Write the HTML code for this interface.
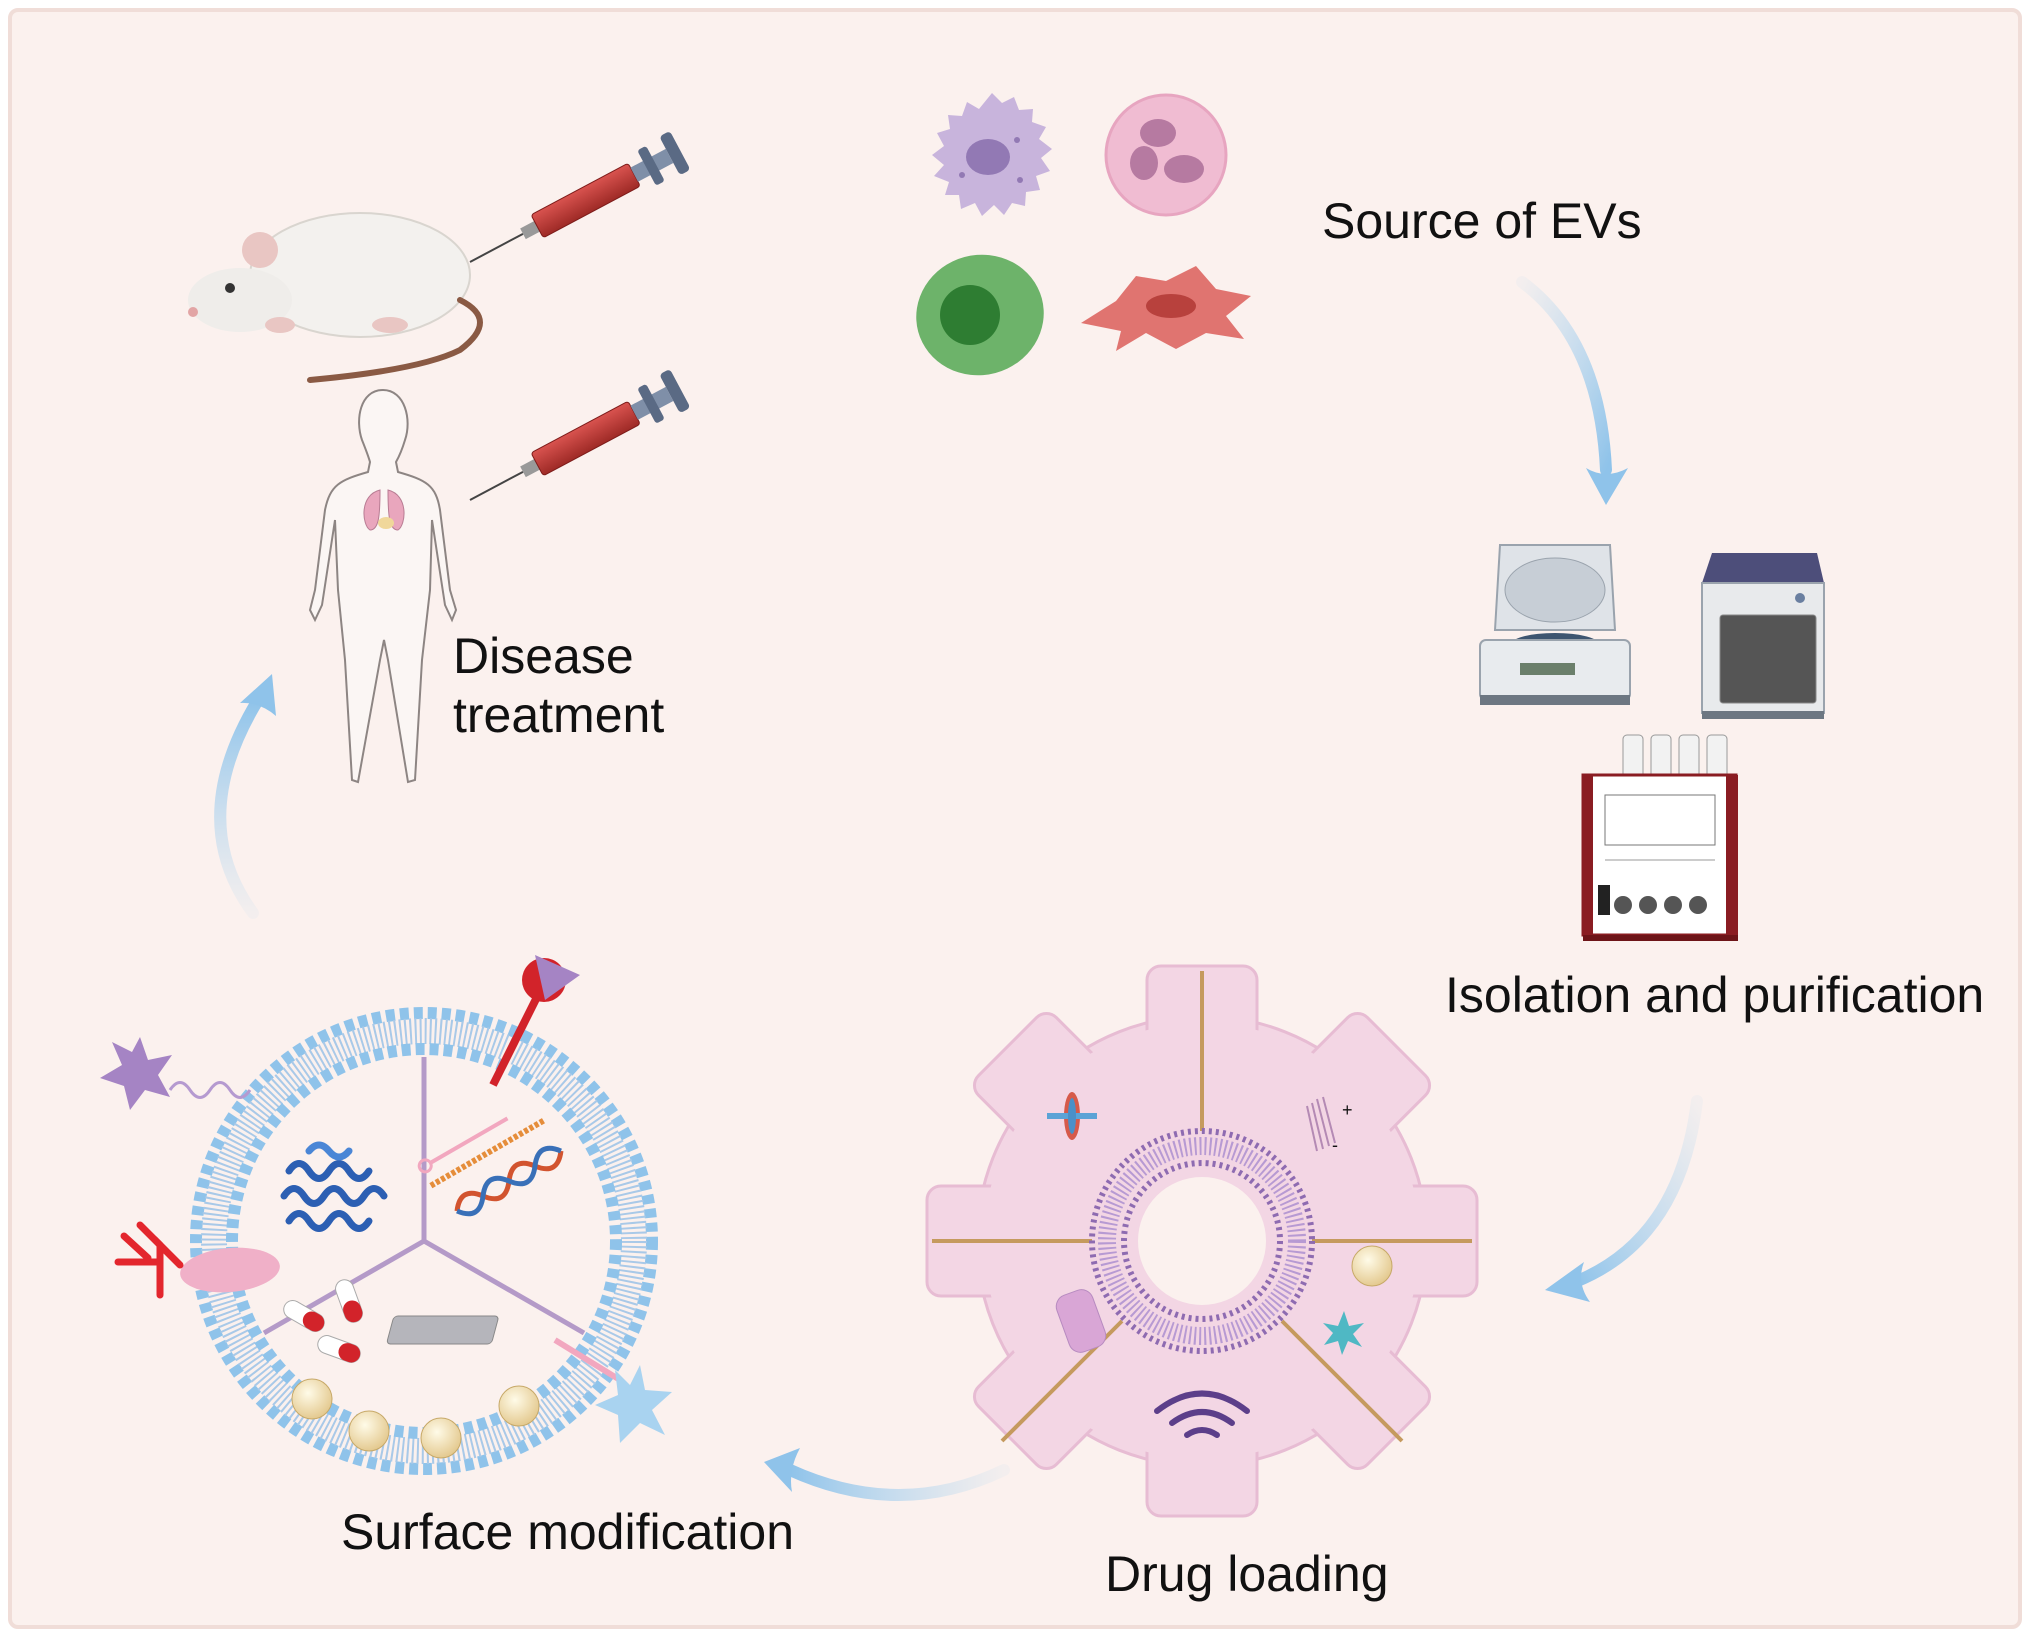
<!DOCTYPE html>
<html><head><meta charset="utf-8"><style>
html,body{margin:0;padding:0;background:#fff;}
svg{display:block;}
text{font-family:"Liberation Sans",Arial,sans-serif;fill:#111;}
</style></head><body>
<svg width="2031" height="1638" viewBox="0 0 2031 1638" xmlns="http://www.w3.org/2000/svg">
<defs>
<linearGradient id="ag1" x1="0" y1="0" x2="1" y2="1"><stop offset="0" stop-color="#aed6f1" stop-opacity="0.1"/><stop offset="1" stop-color="#8fc3ea"/></linearGradient>
<linearGradient id="ag2" x1="1" y1="0" x2="0" y2="1"><stop offset="0" stop-color="#aed6f1" stop-opacity="0.1"/><stop offset="1" stop-color="#8fc3ea"/></linearGradient>
<linearGradient id="ag3" x1="1" y1="0" x2="0" y2="0"><stop offset="0" stop-color="#aed6f1" stop-opacity="0.1"/><stop offset="1" stop-color="#8fc3ea"/></linearGradient>
<linearGradient id="ag4" x1="0" y1="1" x2="0" y2="0"><stop offset="0" stop-color="#aed6f1" stop-opacity="0.1"/><stop offset="1" stop-color="#8fc3ea"/></linearGradient>
<linearGradient id="syr" x1="0" y1="0" x2="0" y2="1"><stop offset="0" stop-color="#d9534f"/><stop offset="1" stop-color="#9e2a26"/></linearGradient>
<radialGradient id="pearl" cx="0.4" cy="0.35" r="0.7"><stop offset="0" stop-color="#fffbe8"/><stop offset="1" stop-color="#e2c68a"/></radialGradient>
</defs>
<rect x="0" y="0" width="2031" height="1638" fill="#fff"/>
<rect x="10" y="10" width="2010" height="1617" rx="8" fill="#fbf1ee" stroke="#f0ddd8" stroke-width="4"/>

<!-- arrows -->
<path d="M1522 282 Q1600 340 1606 470" fill="none" stroke="url(#ag1)" stroke-width="12" stroke-linecap="round"/>
<path d="M1586 468 L1606 505 L1628 468 Q1606 480 1586 468Z" fill="#8fc3ea"/>
<path d="M1697 1101 Q1680 1240 1575 1282" fill="none" stroke="url(#ag2)" stroke-width="12" stroke-linecap="round"/>
<path d="M1584 1262 L1545 1290 L1590 1302 Q1576 1283 1584 1262Z" fill="#8fc3ea"/>
<path d="M1004 1470 Q900 1520 790 1470" fill="none" stroke="url(#ag3)" stroke-width="12" stroke-linecap="round"/>
<path d="M800 1448 L764 1462 L792 1492 Q788 1470 800 1448Z" fill="#8fc3ea"/>
<path d="M253 913 Q185 820 258 700" fill="none" stroke="url(#ag4)" stroke-width="12" stroke-linecap="round"/>
<path d="M240 703 L272 674 L276 716 Q260 702 240 703Z" fill="#8fc3ea"/>

<!-- cells -->
<g transform="translate(992,155)">
<polygon points="0,-62 10,-52 22,-58 27,-45 41,-46 40,-33 54,-28 47,-16 60,-6 49,3 58,16 44,21 48,35 34,37 33,51 20,48 12,60 2,50 -10,61 -17,48 -31,54 -33,40 -47,40 -43,27 -58,21 -48,10 -60,0 -48,-9 -55,-22 -42,-26 -44,-40 -30,-39 -25,-53 -13,-46"  fill="#c8b4dc"/>
<ellipse cx="-4" cy="2" rx="22" ry="18" fill="#9279b4"/>
<circle cx="25" cy="-15" r="3" fill="#9279b4"/><circle cx="-30" cy="20" r="3" fill="#9279b4"/><circle cx="28" cy="25" r="3" fill="#9279b4"/>
</g>
<g transform="translate(1166,155)">
<circle r="60" fill="#f0bcd2" stroke="#e7a5c0" stroke-width="3"/>
<ellipse cx="-8" cy="-22" rx="18" ry="14" fill="#b67aa1"/>
<ellipse cx="-22" cy="8" rx="14" ry="17" fill="#b67aa1"/>
<ellipse cx="18" cy="14" rx="20" ry="14" fill="#b67aa1"/>
</g>
<g transform="translate(980,315)">
<ellipse rx="64" ry="60" fill="#6db36a" transform="rotate(-15)"/>
<circle cx="-10" cy="0" r="30" fill="#2e7d32"/>
</g>
<g transform="translate(1166,311)">
<path d="M-85,12 L-50,-10 L-30,-35 L0,-30 L30,-45 L50,-22 L85,-15 L60,5 L78,28 L40,22 L10,38 L-20,22 L-50,40 L-45,20Z" fill="#e07470"/>
<ellipse cx="5" cy="-5" rx="25" ry="12" fill="#b8413d"/>
</g>
<text x="1322" y="238" font-size="50">Source of EVs</text>

<!-- mouse -->
<g transform="translate(330,290)">
<ellipse cx="30" cy="-15" rx="110" ry="62" fill="#f3f1ee" stroke="#d9d5cf" stroke-width="2"/>
<ellipse cx="-90" cy="10" rx="52" ry="32" fill="#efedea"/>
<circle cx="-70" cy="-40" r="18" fill="#e9c6c3"/>
<circle cx="-100" cy="-2" r="5" fill="#333"/>
<circle cx="-137" cy="22" r="5" fill="#e2a5a5"/>
<path d="M130 10 Q170 30 130 60 Q90 80 -20 90" fill="none" stroke="#8a5a44" stroke-width="6" stroke-linecap="round"/>
<ellipse cx="-50" cy="35" rx="15" ry="8" fill="#e9c6c3"/><ellipse cx="60" cy="35" rx="18" ry="8" fill="#e9c6c3"/>
</g>
<!-- syringes -->
<g transform="translate(470,262) rotate(-28)">
<line x1="0" y1="0" x2="60" y2="0" stroke="#444" stroke-width="2"/>
<rect x="60" y="-6" width="16" height="12" fill="#999"/>
<rect x="76" y="-13" width="110" height="26" rx="3" fill="url(#syr)" stroke="#7d1c1a"/>
<rect x="186" y="-8" width="40" height="16" fill="#7f8fa8"/>
<rect x="200" y="-20" width="10" height="40" rx="3" fill="#5a6a84"/>
<rect x="226" y="-22" width="12" height="44" rx="4" fill="#5a6a84"/>
</g>
<g transform="translate(470,500) rotate(-28)">
<line x1="0" y1="0" x2="60" y2="0" stroke="#444" stroke-width="2"/>
<rect x="60" y="-6" width="16" height="12" fill="#999"/>
<rect x="76" y="-13" width="110" height="26" rx="3" fill="url(#syr)" stroke="#7d1c1a"/>
<rect x="186" y="-8" width="40" height="16" fill="#7f8fa8"/>
<rect x="200" y="-20" width="10" height="40" rx="3" fill="#5a6a84"/>
<rect x="226" y="-22" width="12" height="44" rx="4" fill="#5a6a84"/>
</g>
<!-- human -->
<g fill="#fbf6f4" stroke="#8d8583" stroke-width="2">
<path d="M383 390 C360 390 355 420 362 440 C366 450 368 455 370 462 L368 472 C340 480 330 485 325 510 L315 590 L310 610 L315 620 L322 605 L335 520 L338 590 L345 660 L352 780 L358 782 L380 660 L384 640 L388 660 L408 782 L415 780 L422 660 L430 590 L432 520 L445 605 L452 620 L456 610 L450 590 L440 510 C436 485 426 480 398 472 L396 462 C400 455 402 450 405 440 C412 420 405 390 383 390Z"/>
</g>
<g transform="translate(384,505)">
<path d="M-4 -15 C-25 -10 -22 20 -14 25 C-5 25 -4 10 -4 -15Z" fill="#e9a6bd" stroke="#b87c93"/>
<path d="M4 -15 C25 -10 22 20 14 25 C5 25 4 10 4 -15Z" fill="#e9a6bd" stroke="#b87c93"/>
<ellipse cx="2" cy="18" rx="8" ry="6" fill="#f0d79a"/>
</g>
<text x="453" y="673" font-size="50">Disease</text>
<text x="453" y="732" font-size="50">treatment</text>

<!-- centrifuge -->
<g transform="translate(1480,545)">
<path d="M20 0 L130 0 L135 85 L15 85Z" fill="#dfe3e8" stroke="#9aa3ad" stroke-width="2"/>
<ellipse cx="75" cy="45" rx="50" ry="32" fill="#c7ced6" stroke="#9aa3ad"/>
<ellipse cx="75" cy="100" rx="45" ry="12" fill="#3e5570"/>
<rect x="0" y="95" width="150" height="60" rx="6" fill="#e8ebee" stroke="#9aa3ad" stroke-width="2"/>
<rect x="40" y="118" width="55" height="12" fill="#6b7f6b"/>
<rect x="0" y="150" width="150" height="10" fill="#6d7782"/>
</g>
<!-- oven -->
<g transform="translate(1702,553)">
<path d="M10 0 L115 0 L122 30 L0 30Z" fill="#4d4e7a"/>
<rect x="0" y="30" width="122" height="130" fill="#e8eaec" stroke="#9aa3ad" stroke-width="2"/>
<rect x="18" y="62" width="96" height="88" rx="3" fill="#555" stroke="#888"/>
<circle cx="98" cy="45" r="5" fill="#6a7fa0"/>
<rect x="0" y="158" width="122" height="8" fill="#6d7782"/>
</g>
<!-- chromatography -->
<g transform="translate(1583,735)">
<rect x="40" y="0" width="20" height="45" rx="4" fill="#f2f2f2" stroke="#999"/>
<rect x="68" y="0" width="20" height="45" rx="4" fill="#f2f2f2" stroke="#999"/>
<rect x="96" y="0" width="20" height="45" rx="4" fill="#f2f2f2" stroke="#999"/>
<rect x="124" y="0" width="20" height="45" rx="4" fill="#f2f2f2" stroke="#999"/>
<rect x="0" y="40" width="153" height="160" fill="#fff" stroke="#8a1c22" stroke-width="3"/>
<rect x="0" y="40" width="10" height="160" fill="#8a1c22"/>
<rect x="143" y="40" width="12" height="160" fill="#8a1c22"/>
<rect x="22" y="60" width="110" height="50" fill="none" stroke="#777"/>
<line x1="22" y1="125" x2="132" y2="125" stroke="#999"/>
<circle cx="40" cy="170" r="9" fill="#555"/><circle cx="65" cy="170" r="9" fill="#555"/><circle cx="90" cy="170" r="9" fill="#555"/><circle cx="115" cy="170" r="9" fill="#555"/>
<rect x="15" y="150" width="12" height="30" fill="#222"/>
<rect x="0" y="200" width="155" height="6" fill="#6d1418"/>
</g>
<text x="1445" y="1012" font-size="50">Isolation and purification</text>

<!-- gear -->
<g transform="translate(1202,1241)">
<g fill="#f3d6e4" stroke="#e7bcd3" stroke-width="3">
<circle r="225"/>
<rect x="-55" y="-275" width="110" height="80" rx="14"/>
<rect x="-55" y="195" width="110" height="80" rx="14"/>
<rect x="-275" y="-55" width="80" height="110" rx="14"/>
<rect x="195" y="-55" width="80" height="110" rx="14"/>
<rect x="-55" y="-275" width="110" height="80" rx="14" transform="rotate(45)"/>
<rect x="-55" y="-275" width="110" height="80" rx="14" transform="rotate(-45)"/>
<rect x="-55" y="-275" width="110" height="80" rx="14" transform="rotate(135)"/>
<rect x="-55" y="-275" width="110" height="80" rx="14" transform="rotate(-135)"/>
</g>
<circle r="218" fill="#f3d6e4"/>
<g stroke="#c59a5e" stroke-width="4">
<line x1="0" y1="-270" x2="0" y2="-110"/>
<line x1="-270" y1="0" x2="-110" y2="0"/><line x1="110" y1="0" x2="270" y2="0"/>
<line x1="-80" y1="80" x2="-200" y2="200"/><line x1="80" y1="80" x2="200" y2="200"/>
</g>
<circle r="110" fill="#f3d6e4" stroke="#8e6bb1" stroke-width="6" stroke-dasharray="3 4"/>
<circle r="95" fill="none" stroke="#b79ad3" stroke-width="18" stroke-dasharray="2 3"/>
<circle r="78" fill="#f3d6e4" stroke="#8e6bb1" stroke-width="6" stroke-dasharray="3 4"/>
<circle r="64" fill="#fbf1ee"/>
<g fill="none" stroke="#5c3f8a" stroke-width="6" stroke-linecap="round">
<path d="M-45 170 Q0 135 45 170"/><path d="M-30 182 Q0 160 30 182"/><path d="M-15 194 Q0 184 15 194"/>
</g>
<circle cx="170" cy="25" r="20" fill="url(#pearl)" stroke="#c7a968"/>
<polygon points="142,70 147,85 162,82 151,93 160,106 146,100 140,114 136,100 122,104 131,92 121,82 136,85" fill="#4fb8c4"/>
<rect x="-140" y="50" width="38" height="60" rx="12" fill="#d9a6d6" stroke="#b78bc0" transform="rotate(-20 -121 80)"/>
<g transform="translate(-130,-125)"><ellipse rx="8" ry="24" fill="#d65a4a"/><rect x="-25" y="-3" width="50" height="6" fill="#5ba3d6"/><ellipse rx="4" ry="18" fill="#4a90c8"/></g>
<g transform="translate(135,-120)" stroke="#b48ab4" stroke-width="2" fill="none"><path d="M-30 -15 L-20 30 M-25 -18 L-14 28 M-20 -22 L-8 25 M-14 -24 L-2 22"/><text x="5" y="-5" font-size="18" fill="#4fb8c4" stroke="none">+</text><text x="-5" y="30" font-size="18" fill="#4fb8c4" stroke="none">-</text></g>
</g>
<text x="1105" y="1591" font-size="50">Drug loading</text>

<!-- surface modified vesicle -->
<g transform="translate(424,1241)">
<circle r="228" fill="none" stroke="#8fc3ea" stroke-width="12" stroke-dasharray="9 5"/>
<circle r="210" fill="none" stroke="#a9c9e8" stroke-width="26" stroke-dasharray="2 3"/>
<circle r="192" fill="none" stroke="#8fc3ea" stroke-width="12" stroke-dasharray="9 5"/>
<circle r="184" fill="#fbf1ee"/>
<g stroke="#b49ac8" stroke-width="5">
<line x1="0" y1="0" x2="0" y2="-184"/>
<line x1="0" y1="0" x2="-160" y2="92"/>
<line x1="0" y1="0" x2="160" y2="92"/>
</g>
<g transform="translate(-95,-50)" fill="none" stroke="#2c5fb3" stroke-width="7" stroke-linecap="round">
<path d="M-40 -20 q10 -15 20 0 q10 15 20 0 q10 -15 20 0 q10 15 20 0"/>
<path d="M-45 5 q10 -15 20 0 q10 15 20 0 q10 -15 20 0 q10 15 20 0 q10 -15 20 0"/>
<path d="M-40 30 q10 -15 20 0 q10 15 20 0 q10 -15 20 0 q10 15 20 0"/>
<path d="M-20 -40 q10 -12 20 0 q10 12 20 0" stroke="#4a86d6"/>
</g>
<g transform="translate(85,-60) rotate(-30)">
<path d="M-60 0 q15 -20 30 0 q15 20 30 0 q15 -20 30 0 q15 20 30 0" fill="none" stroke="#d2542f" stroke-width="5"/>
<path d="M-60 0 q15 20 30 0 q15 -20 30 0 q15 20 30 0 q15 -20 30 0" fill="none" stroke="#3970b8" stroke-width="5"/>
<path d="M-70 -35 L60 -35" stroke="#e58d3a" stroke-width="6" stroke-dasharray="4 2"/>
<path d="M-60 -55 L30 -55" stroke="#f2a7bf" stroke-width="4"/><circle cx="-65" cy="-55" r="6" fill="none" stroke="#f2a7bf" stroke-width="3"/>
</g>
<g transform="translate(-120,75) rotate(30)"><rect x="-22" y="-9" width="44" height="18" rx="9" fill="#fff" stroke="#aaa"/><rect x="0" y="-9" width="22" height="18" rx="9" fill="#d2232a"/></g>
<g transform="translate(-75,60) rotate(70)"><rect x="-22" y="-9" width="44" height="18" rx="9" fill="#fff" stroke="#aaa"/><rect x="0" y="-9" width="22" height="18" rx="9" fill="#d2232a"/></g>
<g transform="translate(-85,108) rotate(20)"><rect x="-22" y="-9" width="44" height="18" rx="9" fill="#fff" stroke="#aaa"/><rect x="0" y="-9" width="22" height="18" rx="9" fill="#d2232a"/></g>
<rect x="-10" y="75" width="105" height="28" rx="4" fill="#b5b5bb" stroke="#888" transform="skewX(-15)"/>
<circle cx="-112" cy="158" r="20" fill="url(#pearl)" stroke="#c7a968"/>
<circle cx="-55" cy="190" r="20" fill="url(#pearl)" stroke="#c7a968"/>
<circle cx="17" cy="197" r="20" fill="url(#pearl)" stroke="#c7a968"/>
<circle cx="95" cy="165" r="20" fill="url(#pearl)" stroke="#c7a968"/>
</g>
<line x1="493" y1="1085" x2="538" y2="995" stroke="#d2232a" stroke-width="8"/>
<circle cx="544" cy="980" r="22" fill="#d2232a"/>
<polygon points="535,955 580,975 545,1000" fill="#a584c4"/>
<polygon points="140,1037 148,1060 172,1055 158,1075 170,1097 145,1090 130,1110 124,1086 100,1078 122,1065 112,1042 132,1052" fill="#a584c4"/>
<path d="M170 1090 q10 -15 20 0 q10 15 20 0 q10 -15 20 0 q10 15 20 0" fill="none" stroke="#b59ad0" stroke-width="3"/>
<ellipse cx="230" cy="1270" rx="50" ry="22" fill="#f0b0c8" transform="rotate(-5 230 1270)"/>
<g stroke="#e3262d" stroke-width="7" fill="none" stroke-linecap="round">
<path d="M180 1265 L160 1245 L160 1295"/><path d="M160 1245 L140 1225"/><path d="M148 1258 L124 1236"/><path d="M160 1262 L118 1262"/>
</g>
<line x1="555" y1="1340" x2="620" y2="1380" stroke="#f2a7bf" stroke-width="6"/>
<polygon points="640,1365 645,1390 672,1392 652,1410 665,1435 640,1423 620,1443 618,1415 595,1405 618,1395 615,1370 630,1385" fill="#a9d3f0"/>
<text x="341" y="1549" font-size="50">Surface modification</text>
</svg>
</body></html>
